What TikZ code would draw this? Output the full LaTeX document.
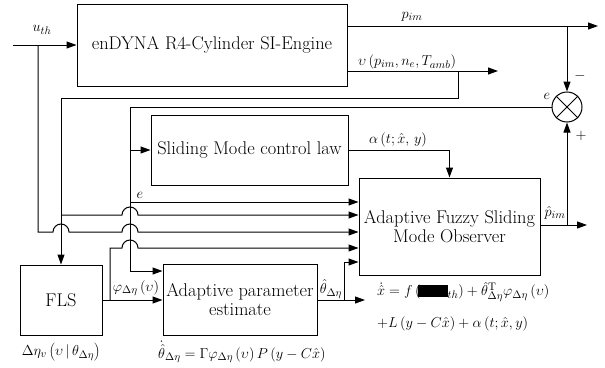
\documentclass[tikz,border=0pt]{standalone}
\usetikzlibrary{arrows.meta,calc}
\tikzset{
  blk/.style={draw,line width=1pt,inner sep=2pt,align=center,font=\fontsize{18.4}{20.5}\selectfont},
  ln/.style={line width=1pt},
  arr/.style={line width=1pt,-{Triangle[length=10pt,width=7pt]}},
  lbl/.style={inner sep=0pt,font=\fontsize{15.5}{18}\selectfont},
}
\begin{document}
\begin{tikzpicture}[x=1pt,y=-1pt]
\useasboundingbox (0,0) rectangle (605,367);
% blocks
\node[blk,minimum width=270pt,minimum height=82pt] (eng) at (212,45) {enDYNA R4-Cylinder SI-Engine};
\node[blk,minimum width=197pt,minimum height=70pt] (sl) at (249.5,150) {Sliding Mode control law};
\node[blk,minimum width=181pt,minimum height=97pt] (obs) at (449.5,226.5) {Adaptive Fuzzy Sliding\\[-1pt]Mode Observer};
\node[blk,minimum width=154pt,minimum height=71pt] (est) at (240,299.5) {Adaptive parameter\\[-1pt]estimate};
\node[blk,minimum width=82pt,minimum height=70pt] (fls) at (61,300) {FLS};
\node[draw,circle,line width=1pt,minimum size=30pt,inner sep=0pt] (sum) at (567,107) {};
\draw[ln] (sum.north west) -- (sum.south east);
\draw[ln] (sum.north east) -- (sum.south west);
% coordinates
\coordinate (uin) at (13,45);
\coordinate (uj) at (38,45);
\coordinate (pout) at (598,26);
\coordinate (pj) at (567,26);
\coordinate (vout) at (498,71);
\coordinate (vj) at (458,71);
\coordinate (ej) at (130,107);
\coordinate (vd) at (61,215);
\coordinate (fj) at (110,300);
\coordinate (tout) at (365,300);
\coordinate (tj) at (344,300);
\coordinate (phout) at (587,225);
\coordinate (phj) at (567,225);
% u_th
\draw[arr] (uin) -- (eng.west);
\draw[arr] (uj) -- (38,232) -- (53,232) arc[start angle=180,end angle=0,radius=8pt] -- (122,232) arc[start angle=180,end angle=0,radius=8pt] -- (obs.west |- 0,232);
% p_im
\draw[arr] (eng.east |- pout) -- (pout);
\draw[arr] (pj) -- (sum.north);
% upsilon
\draw[arr] (eng.east |- vout) -- (vout);
\draw[arr] (vj) -- (458,98) -- (61,98) -- (fls.north);
\draw[arr] (vd) -- (122,215) arc[start angle=180,end angle=0,radius=8pt] -- (obs.west |- 0,215);
% e
\draw[arr] (sum.west) -- (ej) -- (130,271) -- (est.west |- 0,271);
\draw[arr] (130,150) -- (sl.west);
\draw[arr] (130,202) -- (obs.west |- 0,202);
% sliding output
\draw[arr] (sl.east) -| (obs.north);
% FLS output
\draw[arr] (fls.east) -- (fls.east -| est.west);
\draw[arr] (fj) -- (110,248) -- (122,248) arc[start angle=180,end angle=0,radius=8pt] -- (obs.west |- 0,248);
% theta hat
\draw[arr] (est.east |- tout) -- (tout);
\draw[arr] (tj) -- (344,262) -- (obs.west |- 0,262);
% p hat
\draw[arr] (obs.east |- phout) -- (phout);
\draw[arr] (phj) -- (sum.south);
% labels
\node[lbl] (lu) at (42,30) {$u_{th}$};
\node[lbl] (lp) at (412,17) {$p_{im}$};
\node[lbl] (lv) at (407,62) {$\upsilon\left(p_{im},n_e,T_{amb}\right)$};
\node[lbl] (le1) at (547,96) {$e$};
\node[lbl] (lm) at (580,76) {$-$};
\node[lbl] (lpl) at (581,136) {$+$};
\node[lbl] (la) at (398,140) {$\alpha\left(t;\hat{x},\,y\right)$};
\node[lbl] (le2) at (140,195) {$e$};
\node[lbl] (lph) at (555,213) {$\hat{p}_{im}$};
\node[lbl] (lth) at (331,289) {$\hat{\theta}_{\Delta\eta}$};
\node[lbl] (lphi) at (136,288) {$\varphi_{\Delta\eta}\left(\upsilon\right)$};
\node[lbl] (ldn) at (61,352) {$\Delta\eta_{v}\left(\upsilon\,|\,\theta_{\Delta\eta}\right)$};
\node[lbl,anchor=west] (lthd) at (158,352) {$\dot{\hat{\theta}}_{\Delta\eta}=\Gamma\varphi_{\Delta\eta}\left(\upsilon\right)P\left(y-C\hat{x}\right)$};
\node[lbl,anchor=west] (lf1) at (377,292) {$\dot{\hat{x}}=f\left(\kern-3pt\rule[-1pt]{30pt}{12pt}_{th}\right)+\hat{\theta}_{\Delta\eta}^{\mathrm{T}}\varphi_{\Delta\eta}\left(\upsilon\right)$};
\node[lbl,anchor=west] (lf2) at (377,324) {$+L\left(y-C\hat{x}\right)+\alpha\left(t;\hat{x},y\right)$};
\end{tikzpicture}
\end{document}
